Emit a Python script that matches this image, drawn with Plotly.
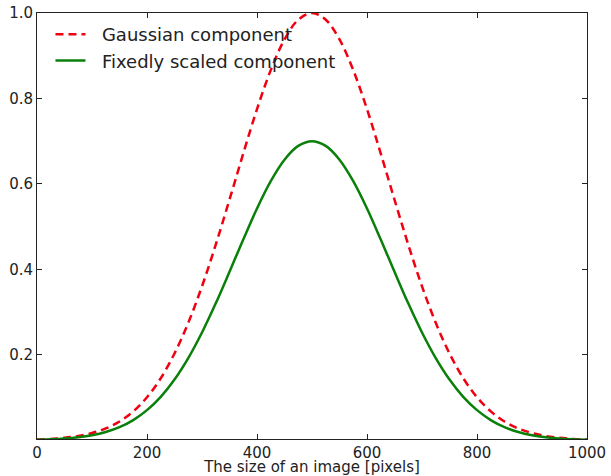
import plotly.graph_objects as go

x_vals = [0, 25, 50, 75, 100, 125, 150, 175, 200, 225, 250, 275, 300, 325, 350, 375, 400,
          425, 450, 475, 500, 525, 550, 575, 600, 625, 650, 675, 700, 725, 750, 775, 800,
          825, 850, 875, 900, 925, 950, 975, 1000]

gaussian_half = [0.0017, 0.0032, 0.0057, 0.0100, 0.0169, 0.0277, 0.0439, 0.0676, 0.1007,
                 0.1453, 0.2031, 0.2749, 0.3604, 0.4579, 0.5633, 0.6711, 0.7749, 0.8663,
                 0.9382, 0.9842, 1.0]
gaussian_vals = gaussian_half + gaussian_half[-2::-1]

scaled_half = [0.0012, 0.0022, 0.0040, 0.0070, 0.0118, 0.0194, 0.0307, 0.0473, 0.0705,
               0.1017, 0.1422, 0.1924, 0.2523, 0.3205, 0.3943, 0.4698, 0.5424, 0.6064,
               0.6567, 0.6889, 0.70]
scaled_vals = scaled_half + scaled_half[-2::-1]

series_names = ["Gaussian component", "Fixedly scaled component"]

x_ticks = [0, 200, 400, 600, 800, 1000]
y_ticks = [0.2, 0.4, 0.6, 0.8, 1.0]
y_tick_text = ["0.2", "0.4", "0.6", "0.8", "1.0"]

fig = go.Figure()
fig.add_trace(go.Scatter(
    x=x_vals, y=gaussian_vals, mode="lines", name="\u00a0\u00a0" + series_names[0],
    line=dict(color="#f00010", width=2.5, dash="8px,5px", shape="spline"),
))
fig.add_trace(go.Scatter(
    x=x_vals, y=scaled_vals, mode="lines", name="\u00a0\u00a0" + series_names[1],
    line=dict(color="#0a800a", width=2.5, shape="spline"),
))

axis_common = dict(
    showgrid=False, zeroline=False, showline=True, linecolor="#222", linewidth=1,
    mirror="ticks", ticks="inside", ticklen=5, tickcolor="#222", tickwidth=1,
    automargin=False,
    tickfont=dict(family="DejaVu Sans", size=15, color="#222"),
)

fig.update_layout(
    width=611, height=476,
    margin=dict(l=37, r=24, t=13, b=37, autoexpand=False),
    paper_bgcolor="white", plot_bgcolor="white",
    font=dict(family="DejaVu Sans", color="#222"),
    showlegend=True,
    legend=dict(x=0.0245, y=0.993, xanchor="left", yanchor="top",
                bgcolor="rgba(0,0,0,0)", font=dict(size=18, family="DejaVu Sans", color="#222"),
                tracegroupgap=0),
    xaxis=dict(range=[0, 1000], tickvals=x_ticks,
               title=dict(text="The size of an image [pixels]", standoff=2,
                          font=dict(size=15, family="DejaVu Sans", color="#222")),
               **axis_common),
    yaxis=dict(range=[0.003, 1.0], tickvals=y_ticks, ticktext=y_tick_text, **axis_common),
)

fig.write_html("out.html", config={"displayModeBar": False},
               post_script="document.body.style.margin='0';")
